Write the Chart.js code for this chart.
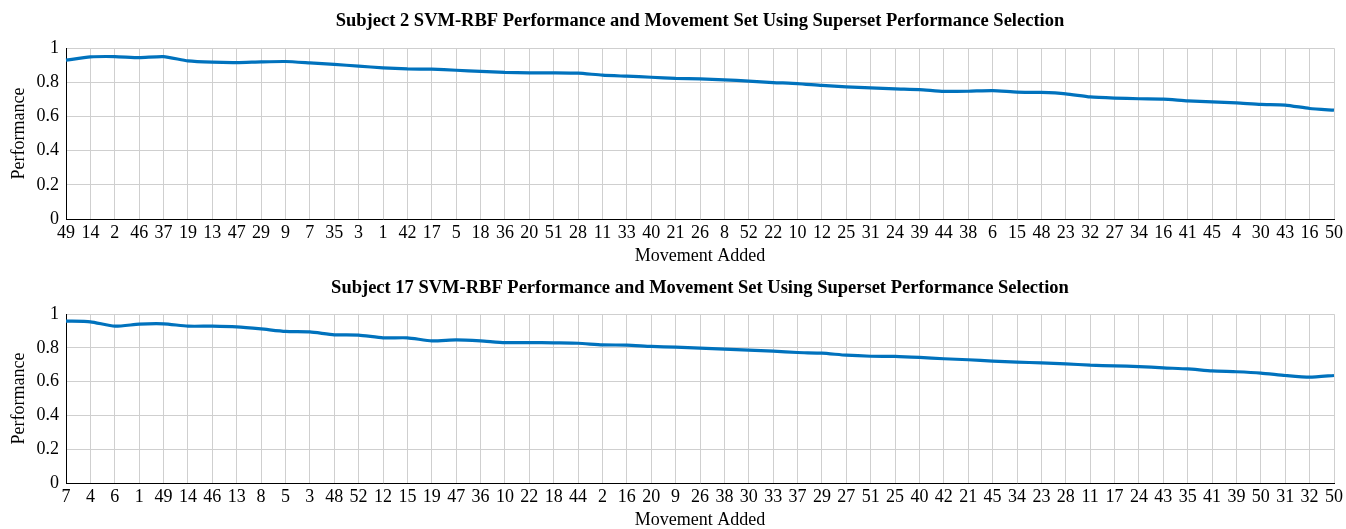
<!DOCTYPE html>
<html>
<head>
<meta charset="utf-8">
<script src="https://cdn.jsdelivr.net/npm/chart.js@4/dist/chart.umd.min.js"></script>
<style>
    html, body { margin: 0; padding: 0; background: #fff; }
    .wrap { position: absolute; left: 0; width: 1346px; }
    #w1 { top: 0; height: 265px; }
    #w2 { top: 265px; height: 264px; }
</style>
</head>
<body>
<div class="wrap" id="w1"><canvas id="chart1"></canvas></div>
<div class="wrap" id="w2"><canvas id="chart2"></canvas></div>
<script>
// 상단: Subject 2
const s2Labels = ['49', '14', '2', '46', '37', '19', '13', '47', '29', '9', '7', '35', '3', '1', '42', '17', '5', '18', '36', '20', '51', '28', '11', '33', '40', '21', '26', '8', '52', '22', '10', '12', '25', '31', '24', '39', '44', '38', '6', '15', '48', '23', '32', '27', '34', '16', '41', '45', '4', '30', '43', '16', '50'];
const s2Perf = [0.930, 0.949, 0.951, 0.945, 0.951, 0.926, 0.918, 0.916, 0.920, 0.922, 0.914, 0.905, 0.895, 0.885, 0.879, 0.877, 0.871, 0.864, 0.858, 0.856, 0.856, 0.854, 0.842, 0.836, 0.830, 0.823, 0.820, 0.815, 0.807, 0.799, 0.793, 0.782, 0.774, 0.768, 0.762, 0.758, 0.747, 0.748, 0.752, 0.743, 0.741, 0.733, 0.715, 0.708, 0.704, 0.702, 0.692, 0.686, 0.680, 0.671, 0.667, 0.647, 0.637];

// 하단: Subject 17
const s17Labels = ['7', '4', '6', '1', '49', '14', '46', '13', '8', '5', '3', '48', '52', '12', '15', '19', '47', '36', '10', '22', '18', '44', '2', '16', '20', '9', '26', '38', '30', '33', '37', '29', '27', '51', '25', '40', '42', '21', '45', '34', '23', '28', '11', '17', '24', '43', '35', '41', '39', '50', '31', '32', '50'];
const s17Perf = [0.959, 0.955, 0.929, 0.941, 0.943, 0.929, 0.929, 0.925, 0.913, 0.898, 0.895, 0.878, 0.876, 0.860, 0.860, 0.842, 0.848, 0.842, 0.832, 0.832, 0.830, 0.828, 0.818, 0.817, 0.809, 0.805, 0.799, 0.793, 0.787, 0.781, 0.773, 0.769, 0.757, 0.751, 0.750, 0.744, 0.736, 0.730, 0.722, 0.716, 0.712, 0.706, 0.698, 0.694, 0.690, 0.682, 0.676, 0.664, 0.659, 0.651, 0.637, 0.627, 0.637];

const yMin = 0;
const yMax = 1;
const yStep = 0.2;

const serif = 'Liberation Serif';
const gridColor = '#cfcfcf';

function makeChart(canvasId, title, labels, values, titleTop, titleBottom) {
    const ctx = document.getElementById(canvasId).getContext('2d');
    return new Chart(ctx, {
        type: 'line',
        data: {
            labels: labels,
            datasets: [
                {
                    data: values,
                    borderColor: '#0072bd',
                    borderWidth: 3.2,
                    pointRadius: 0,
                    fill: false,
                    tension: 0.2,
                },
            ],
        },
        options: {
            responsive: true,
            maintainAspectRatio: false,
            animation: false,
            layout: { padding: { left: 0, right: 12, top: 0, bottom: 0 } },
            plugins: {
                legend: { display: false },
                tooltip: { enabled: false },
                // 제목은 플롯 영역 중앙에 맞춤
                title: {
                    display: true,
                    fullSize: false,
                    text: title,
                    color: '#000',
                    font: { family: serif, size: 18.5, weight: 'bold', lineHeight: 1.2 },
                    padding: { top: titleTop, bottom: titleBottom },
                },
            },
            scales: {
                x: {
                    afterFit: (scale) => { scale.height = 46; },
                    grid: { color: gridColor, drawTicks: false },
                    border: { color: '#000', width: 1 },
                    ticks: {
                        autoSkip: false,
                        maxRotation: 0,
                        padding: 3,
                        color: '#000',
                        font: { family: serif, size: 18 },
                    },
                    title: {
                        display: true,
                        text: 'Movement Added',
                        color: '#000',
                        font: { family: serif, size: 18, lineHeight: 1 },
                        padding: { top: 0, bottom: 0 },
                    },
                },
                y: {
                    min: yMin,
                    max: yMax,
                    afterFit: (scale) => { scale.width = 66; },
                    grid: { color: gridColor, drawTicks: false },
                    border: { color: '#000', width: 1 },
                    ticks: {
                        stepSize: yStep,
                        padding: 7,
                        color: '#000',
                        font: { family: serif, size: 18 },
                        callback: (v) => String(Math.round(v * 10) / 10),
                    },
                    title: {
                        display: true,
                        text: 'Performance',
                        color: '#000',
                        font: { family: serif, size: 18, lineHeight: 1 },
                        padding: { top: 10, bottom: 0 },
                    },
                },
            },
        },
    });
}

makeChart('chart1', 'Subject 2 SVM-RBF Performance and Movement Set Using Superset Performance Selection', s2Labels, s2Perf, 10, 16);
makeChart('chart2', 'Subject 17 SVM-RBF Performance and Movement Set Using Superset Performance Selection', s17Labels, s17Perf, 12, 15);
</script>
</body>
</html>
